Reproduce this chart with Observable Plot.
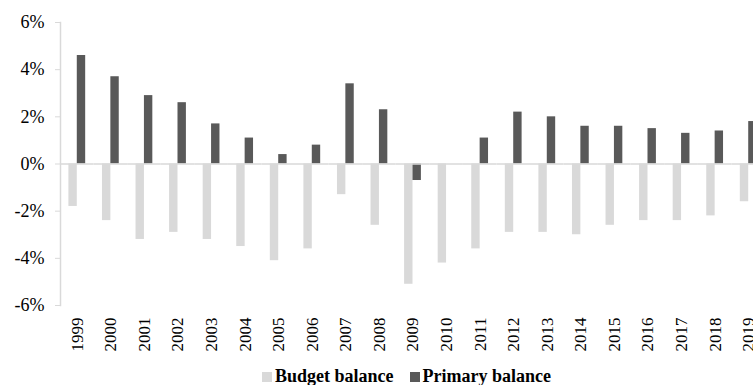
<!DOCTYPE html>
<html>
<head>
<meta charset="utf-8">
<script src="https://cdn.jsdelivr.net/npm/d3@7"></script>
<script src="https://cdn.jsdelivr.net/npm/@observablehq/plot@0.6"></script>
<style>
  html, body { margin: 0; padding: 0; background: #fff; overflow: hidden; }
  body { width: 753px; height: 385px; font-family: "Liberation Serif", "Times New Roman", serif; }
  #chart svg { display: block; max-width: none !important; }
  #chart svg text { font-family: "Liberation Serif", "Times New Roman", serif; }
  .legend { margin-top: 7px; margin-left: 262px; font-weight: bold; font-size: 18px; line-height: 18px; white-space: nowrap; color: #000; }
  .legend .sw { display: inline-block; width: 10px; height: 10px; margin-right: 3px; vertical-align: baseline; }
  .legend .item { margin-right: 16px; }
</style>
</head>
<body>
<div id="chart"></div>
<script>
const years = ["1999","2000","2001","2002","2003","2004","2005","2006","2007","2008","2009","2010",
               "2011","2012","2013","2014","2015","2016","2017","2018","2019"];
const seriesNames = ["Budget balance", "Primary balance"];
const seriesColors = ["#d9d9d9", "#595959"];
const budgetBalance = [-1.8,-2.4,-3.2,-2.9,-3.2,-3.5,-4.1,-3.6,-1.3,-2.6,-5.1,-4.2,-3.6,-2.9,-2.9,-3.0,-2.6,-2.4,-2.4,-2.2,-1.6];
const primaryBalance = [4.6,3.7,2.9,2.6,1.7,1.1,0.4,0.8,3.4,2.3,-0.7,0,1.1,2.2,2.0,1.6,1.6,1.5,1.3,1.4,1.8];
const yTicks = [-6, -4, -2, 0, 2, 4, 6];

const rows = years.flatMap((year, i) => [
  {year, series: seriesNames[0], value: budgetBalance[i]},
  {year, series: seriesNames[1], value: primaryBalance[i]}
]);

const serif = "Liberation Serif, Times New Roman, serif";

const chart = Plot.plot({
  width: 765,
  height: 360,
  marginLeft: 60,
  marginRight: 0,
  marginTop: 22,
  marginBottom: 55,
  style: "max-width: none; font-family: 'Liberation Serif', 'Times New Roman', serif; font-size: 17px; background: #fff;",
  fx: {domain: years, padding: 0, round: false, label: null},
  x: {domain: seriesNames, paddingInner: 0, paddingOuter: 1, round: false, axis: null},
  y: {domain: [-6, 6], axis: null},
  color: {domain: seriesNames, range: seriesColors},
  marks: [
    Plot.barY(rows, {fx: "year", x: "series", y: "value", fill: "series"}),
    Plot.ruleY([0], {stroke: "#d9d9d9", strokeWidth: 1.5}),
    Plot.frame({anchor: "left", facetAnchor: "left", stroke: "#d9d9d9", strokeWidth: 1.5}),
    Plot.axisY({ticks: yTicks, tickFormat: d => d + "%", tickSize: 5, tickPadding: 11,
                stroke: "#d9d9d9", color: "#000", label: null,
                fontSize: 18, fontFamily: serif}),
    Plot.axisFx({anchor: "bottom", tickRotate: -90, tickSize: 0, tickPadding: 12, label: null, color: "#000",
                 fontSize: 17, fontFamily: serif})
  ]
});
document.getElementById("chart").appendChild(chart);

// Legend beneath the plot
const legend = document.createElement("div");
legend.className = "legend";
seriesNames.forEach((name, i) => {
  const item = document.createElement("span");
  item.className = "item";
  const sw = document.createElement("span");
  sw.className = "sw";
  sw.style.background = seriesColors[i];
  item.appendChild(sw);
  item.appendChild(document.createTextNode(name));
  legend.appendChild(item);
});
document.getElementById("chart").appendChild(legend);
</script>
</body>
</html>
